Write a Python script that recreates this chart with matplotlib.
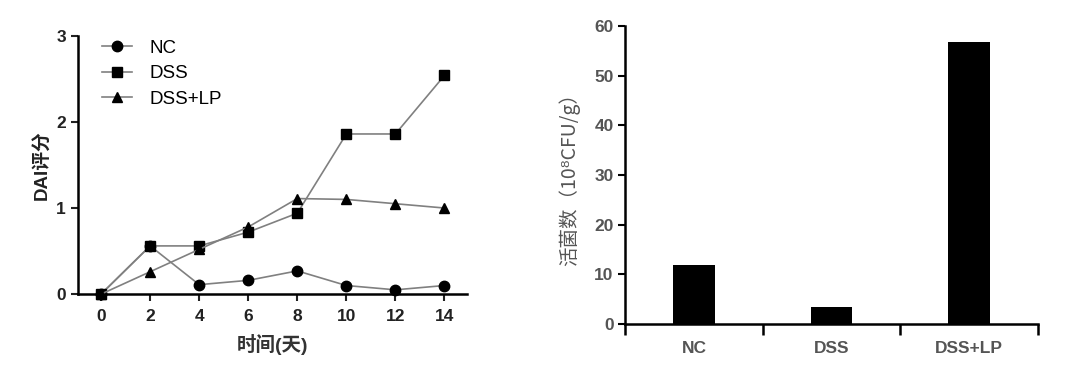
import numpy as np
import matplotlib
matplotlib.use("Agg")
import matplotlib.pyplot as plt

plt.rcParams['font.family'] = ['Liberation Sans', 'Noto Sans CJK SC', 'DejaVu Sans']

# ------------------------------------------------------------------
# Data
# ------------------------------------------------------------------
days = [0, 2, 4, 6, 8, 10, 12, 14]
nc = [0.0, 0.56, 0.11, 0.16, 0.27, 0.10, 0.05, 0.10]
dss = [0.0, 0.56, 0.56, 0.72, 0.94, 1.86, 1.86, 2.54]
dss_lp = [0.0, 0.26, 0.52, 0.78, 1.11, 1.10, 1.05, 1.00]

groups = ["NC", "DSS", "DSS+LP"]
viable = [11.8, 3.3, 56.7]

fig = plt.figure(figsize=(10.8, 3.81), dpi=100)

# ------------------------------------------------------------------
# Left: DAI score over time
# ------------------------------------------------------------------
ax1 = fig.add_axes([0.072, 0.228, 0.360, 0.678])
line_kw = dict(color="#808080", linewidth=1.2, markerfacecolor="black",
               markeredgecolor="black", clip_on=False, zorder=3)
ax1.plot(days, nc, marker="o", markersize=7.5, label="NC", **line_kw)
ax1.plot(days, dss, marker="s", markersize=7.5, label="DSS", **line_kw)
ax1.plot(days, dss_lp, marker="^", markersize=7.5, label="DSS+LP", **line_kw)

ax1.set_xlim(-0.95, 14.9)
ax1.set_ylim(0, 3)
ax1.set_xticks(range(0, 15, 2))
ax1.set_yticks([0, 1, 2, 3])
for s in ["top", "right"]:
    ax1.spines[s].set_visible(False)
for s in ["left", "bottom"]:
    ax1.spines[s].set_linewidth(1.8)
ax1.tick_params(width=1.5, length=5, labelsize=12.5, colors="#222222")
ax1.tick_params(axis="x", pad=6)
for lab in ax1.get_xticklabels() + ax1.get_yticklabels():
    lab.set_fontweight("bold")
ax1.set_xlabel("时间(天)", fontsize=14, fontweight="bold", color="#333333",
               labelpad=7)
ax1.set_ylabel("DAI评分", fontsize=13.5, fontweight="bold", color="#222222")
ax1.legend(loc="upper left", bbox_to_anchor=(0.02, 1.05), frameon=False,
           fontsize=13.5, handlelength=1.6, labelspacing=0.45, handletextpad=0.9)

# ------------------------------------------------------------------
# Right: viable bacteria count
# ------------------------------------------------------------------
ax2 = fig.add_axes([0.579, 0.150, 0.382, 0.782])
xpos = np.arange(len(groups))
ax2.bar(xpos, viable, width=0.3, color="black")
ax2.set_xlim(-0.5, 2.5)
ax2.set_ylim(0, 60)
ax2.set_yticks(range(0, 61, 10))
ax2.set_xticks([-0.5, 0.5, 1.5, 2.5])
ax2.set_xticklabels([])
ax2.set_xticks(xpos, minor=True)
ax2.set_xticklabels(groups, minor=True)
ax2.tick_params(axis="x", which="minor", length=0, pad=12, labelsize=12.5,
                labelcolor="#555555")
ax2.tick_params(axis="x", which="major", length=8, width=1.8)
ax2.tick_params(axis="y", length=5, width=1.5, labelsize=12.5, labelcolor="#555555")
for lab in ax2.get_xticklabels(minor=True) + ax2.get_yticklabels():
    lab.set_fontweight("bold")
for s in ["top", "right"]:
    ax2.spines[s].set_visible(False)
for s in ["left", "bottom"]:
    ax2.spines[s].set_linewidth(1.8)
ax2.set_ylabel("活菌数（10⁸CFU/g）", fontsize=14, color="#555555", labelpad=10,
               family=["Noto Sans CJK SC", "DejaVu Sans"])

fig.savefig("out.png", dpi=100)
